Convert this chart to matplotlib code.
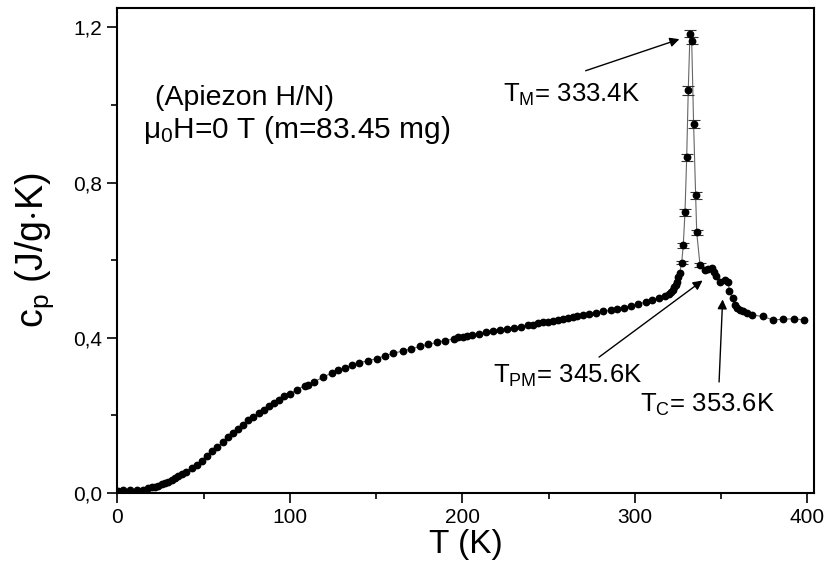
import matplotlib
matplotlib.use("Agg")
import matplotlib.pyplot as plt
from matplotlib.ticker import MultipleLocator, FuncFormatter

plt.rcParams['font.family'] = ['Liberation Sans', 'DejaVu Sans']
plt.rcParams['mathtext.fontset'] = 'custom'
plt.rcParams['mathtext.rm'] = 'Liberation Sans'
plt.rcParams['mathtext.it'] = 'Liberation Sans:italic'
plt.rcParams['mathtext.bf'] = 'Liberation Sans:bold'

# Temperature (K)
T = [0.6, 3.5, 7.4, 11.2, 15.1, 18.0, 19.9, 21.9, 23.8, 25.7, 27.7, 29.6, 31.5, 33.4,
     35.4, 37.3, 39.8, 43.1, 46.0, 48.9, 51.8, 54.7, 58.0, 61.5, 64.4, 67.3, 70.2,
     73.1, 76.0, 78.9, 82.1, 85.0, 87.9, 90.8, 93.9, 96.6, 100.1, 104.0, 108.8,
     110.7, 114.0, 119.4, 124.3, 128.1, 132.0, 135.9, 140.3, 145.1, 150.4, 155.2,
     160.0, 165.4, 170.3, 175.5, 180.3, 185.1, 190.0, 195.0, 197.7, 200.4, 202.6,
     205.4, 209.9, 213.7, 218.0, 221.9, 225.7, 230.0, 233.8, 238.3, 241.2, 244.1,
     247.0, 249.9, 252.8, 255.7, 258.6, 261.5, 264.4, 266.3, 269.8, 273.6, 277.5,
     281.8, 286.0, 289.9, 293.9, 298.0, 302.0, 306.3, 310.2, 314.0, 317.6, 319.6,
     320.9, 322.0, 323.0, 323.8, 324.6, 325.3, 326.0, 327.2, 328.1, 329.1, 330.1,
     331.0, 332.0, 333.0, 334.1, 335.3, 335.9, 337.8, 340.7, 342.6, 344.6, 345.9,
     347.1, 349.4, 352.3, 354.2, 354.8, 356.7, 358.1, 359.4, 361.0, 362.9, 364.9,
     367.8, 374.1, 380.3, 386.1, 392.3, 398.1]

# Specific heat (J/g K)
cp = [0.006, 0.008, 0.008, 0.008, 0.009, 0.012, 0.015, 0.016, 0.019, 0.022, 0.025,
      0.028, 0.034, 0.039, 0.044, 0.049, 0.055, 0.064, 0.072, 0.083, 0.096, 0.107,
      0.118, 0.131, 0.144, 0.154, 0.165, 0.175, 0.187, 0.195, 0.206, 0.214, 0.223,
      0.231, 0.240, 0.249, 0.255, 0.266, 0.277, 0.279, 0.286, 0.299, 0.309, 0.316,
      0.323, 0.329, 0.335, 0.341, 0.346, 0.354, 0.360, 0.366, 0.371, 0.378, 0.383,
      0.388, 0.393, 0.397, 0.402, 0.403, 0.405, 0.407, 0.409, 0.414, 0.418, 0.421,
      0.423, 0.426, 0.428, 0.433, 0.434, 0.437, 0.440, 0.441, 0.444, 0.446, 0.449,
      0.452, 0.454, 0.456, 0.459, 0.462, 0.465, 0.468, 0.471, 0.475, 0.478, 0.483,
      0.487, 0.492, 0.497, 0.502, 0.509, 0.513, 0.518, 0.524, 0.530, 0.537, 0.545,
      0.556, 0.567, 0.594, 0.638, 0.723, 0.865, 1.038, 1.184, 1.166, 0.951, 0.767,
      0.672, 0.588, 0.574, 0.577, 0.580, 0.569, 0.558, 0.543, 0.548, 0.543, 0.520,
      0.502, 0.485, 0.477, 0.472, 0.468, 0.464, 0.459, 0.455, 0.446, 0.448, 0.449,
      0.446]

# Error bars drawn on the peak points (index into T/cp) and their half-widths
err_idx = [101, 102, 103, 104, 105, 106, 107, 108, 109, 110, 111]
err_val = [0.005, 0.006, 0.008, 0.010, 0.012, 0.009, 0.009, 0.010, 0.008, 0.006, 0.005]

xticks = [0, 100, 200, 300, 400]
yticks = [0.0, 0.4, 0.8, 1.2]

W, H = 824, 579
fig = plt.figure(figsize=(W / 100, H / 100), dpi=100)
ax = fig.add_axes([117.3 / W, 1 - 493 / H, (814 - 117.3) / W, (493 - 8) / H])

ax.plot(T, cp, '-', color='#666666', lw=0.8, zorder=2)
ax.plot(T, cp, 'o', color='black', ms=4.6, mec='black', zorder=3)
ax.errorbar([T[i] for i in err_idx], [cp[i] for i in err_idx], yerr=err_val,
            fmt='none', ecolor='#333333', elinewidth=0.8, capsize=4, capthick=0.8, zorder=2)

ax.set_xlim(0, 403.9)
ax.set_ylim(0, 1.25)
ax.set_xticks(xticks)
ax.set_yticks(yticks)
ax.xaxis.set_minor_locator(MultipleLocator(50))
ax.yaxis.set_minor_locator(MultipleLocator(0.2))
ax.yaxis.set_major_formatter(FuncFormatter(lambda v, p: f'{v:.1f}'.replace('.', ',')))
ax.tick_params(which='major', direction='out', length=7, width=1.2, labelsize=15, pad=4)
ax.tick_params(which='minor', direction='out', length=4.5, width=1.2)
for s in ax.spines.values():
    s.set_linewidth(1.5)

ax.set_xlabel('T (K)', fontsize=24, labelpad=1)
ax.set_ylabel(r'c$_{\rm p}$ (J/g$\cdot$K)', fontsize=27, labelpad=12)

fig.text(155 / W, 1 - 98 / H, '(Apiezon H/N)', fontsize=20.5, va='center', ha='left')
fig.text(143 / W, 1 - 130 / H, 'μ$_{\\rm 0}$H=0 T (m=83.45 mg)', fontsize=21.5,
         va='center', ha='left')

arrow = dict(arrowstyle='-|>', color='black', lw=1.0, mutation_scale=14)
ax.annotate(r'T$_{\rm M}$= 333.4K', xy=(327.4, 1.172), xytext=(223.6, 1.025),
            fontsize=18.5, va='center', ha='left')
ax.annotate('', xy=(327.4, 1.172), xytext=(270.0, 1.086), arrowprops=arrow)
ax.annotate(r'T$_{\rm PM}$= 345.6K', xy=(0, 0), xytext=(217.8, 0.302),
            fontsize=18.5, va='center', ha='left')
ax.annotate('', xy=(340.6, 0.552), xytext=(278.0, 0.346), arrowprops=arrow)
ax.annotate(r'T$_{\rm C}$= 353.6K', xy=(0, 0), xytext=(302.9, 0.227),
            fontsize=18.5, va='center', ha='left')
ax.annotate('', xy=(351.0, 0.506), xytext=(348.8, 0.279), arrowprops=arrow)

fig.savefig('out.png', dpi=100)
